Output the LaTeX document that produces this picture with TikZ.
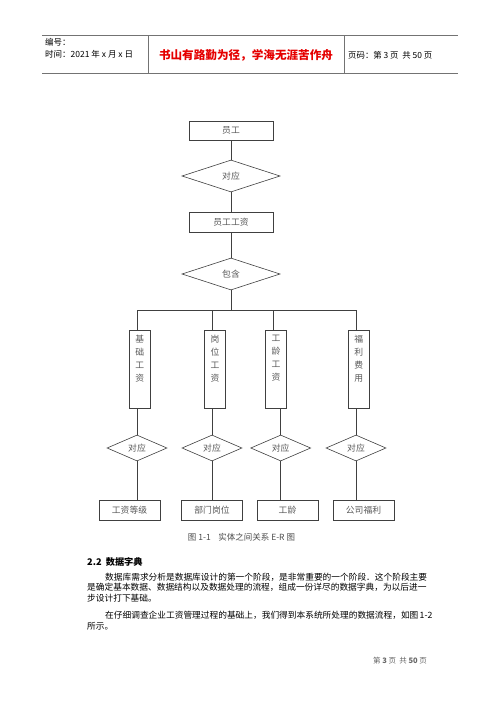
\documentclass[tikz,border=0pt]{standalone}
\usepackage{fontspec}
\setmainfont{Noto Sans CJK SC}
\usetikzlibrary{shapes.geometric,calc}
\XeTeXlinebreaklocale "zh"
\XeTeXlinebreakskip=0pt plus 1pt

\begin{document}
\begin{tikzpicture}[x=1pt,y=-1pt,
    box/.style={draw=black!75,line width=0.6pt,inner sep=0pt,text=black!65,font=\fontsize{8.8}{10}\selectfont},
    entity/.style={box,minimum width=84pt,minimum height=20pt},
    relation/.style={box,diamond,aspect=2},
    attrib/.style={box,minimum width=20.7pt,minimum height=78.7pt},
    vtext/.style={anchor=north,yshift=-5pt,align=center,inner sep=0pt,text=black!65,font=\fontsize{8.8}{13}\selectfont},
    body/.style={anchor=west,inner sep=0pt,font=\fontsize{8.7}{10}\selectfont}]
    \fill[white] (0,0) rectangle (500,707);
    \useasboundingbox (0,0) rectangle (500,707);

    % page header
    \draw[black!55,line width=0.8pt] (42,35) -- (458,35);
    \draw[black!55,line width=0.8pt] (42,73) -- (458,73);
    \draw[black!55,line width=0.8pt] (148,35) -- (148,73);
    \draw[black!55,line width=0.8pt] (344,35) -- (344,73);
    \node[anchor=west,inner sep=0pt,font=\fontsize{8.5}{9}\selectfont] (hnum) at (45,42.5) {编号：};
    \node[anchor=west,inner sep=0pt,font=\fontsize{8.5}{9}\selectfont] (hdate) at (45,54.5) {时间：2021 年 x 月 x 日};
    \node[inner sep=0pt,text=red!90!black,font=\fontsize{11.6}{13}\selectfont\bfseries] (motto) at (246,55) {书山有路勤为径，学海无涯苦作舟};
    \node[anchor=west,inner sep=0pt,font=\fontsize{8.4}{9}\selectfont] (hpage) at (348,55) {页码：第 3 页\ \ 共 50 页};

    % E-R diagram
    \node[entity,minimum height=19pt] (emp) at (231,130.5) {员工};
    \node[relation,minimum width=98pt,minimum height=32pt] (corr) at (231,176) {对应};
    \node[entity] (wage) at (231,222) {员工工资};
    \node[relation,minimum width=98pt,minimum height=32pt] (incl) at (231,274) {包含};
    \draw[black!75,line width=0.6pt] (emp) -- (corr);
    \draw[black!75,line width=0.6pt] (corr) -- (wage);
    \draw[black!75,line width=0.6pt] (wage) -- (incl);

    \coordinate (busL) at (137,310);
    \coordinate (busR) at (357,310);
    \draw[black!75,line width=0.6pt] (busL) -- (busR);
    \draw[black!75,line width=0.6pt] (incl.south) -- (incl.south |- busL);

    \foreach \i/\xa/\xt/\xd/\xb/\att/\ent in {
        1/139.7/137/137/129.5/{基\\础\\工\\资}/工资等级,
        2/215/212/212/212/{岗\\位\\工\\资}/部门岗位,
        3/276/273/280.7/287.5/{工\\龄\\工\\资}/工龄,
        4/358.7/356/356/363.5/{福\\利\\费\\用}/公司福利} {
      \coordinate (top\i) at (\xt,310);
      \node[attrib,label={[vtext]north:{\att}}] (att\i) at (\xa,369.3) {};
      \node[relation,minimum width=60pt,minimum height=26pt] (rel\i) at (\xd,448) {对应};
      \node[box,minimum width=61pt,minimum height=20pt] (ent\i) at (\xb,510) {\ent};
      \draw[black!75,line width=0.6pt] (top\i) -- (top\i |- att\i.north);
      \draw[black!75,line width=0.6pt] (rel\i.north |- att\i.south) -- (rel\i.north);
      \draw[black!75,line width=0.6pt] (rel\i.south) -- (rel\i.south |- ent\i.north);
    }

    % caption and text
    \node[inner sep=0pt,text=black!70,font=\fontsize{8.5}{10}\selectfont] (cap) at (241.5,537) {图 1-1\ \ \ \ 实体之间关系 E-R 图};
    \node[anchor=west,inner sep=0pt,font=\fontsize{9.2}{11}\selectfont\bfseries] (sec) at (87,562) {2.2\ \ 数据字典};
    \node[body] (p1) at (105,577) {\hbox to 325pt{数据库需求分析是数据库设计的第一个阶段，是非常重要的一个阶段．这个阶段主要}};
    \node[body] (p2) at (87,587.5) {\hbox to 343pt{是确定基本数据、数据结构以及数据处理的流程，组成一份详尽的数据字典，为以后进一}};
    \node[body] (p3) at (87,598) {步设计打下基础。};
    \node[body] (p4) at (105,615) {\hbox to 325pt{在仔细调查企业工资管理过程的基础上，我们得到本系统所处理的数据流程，如图 1-2}};
    \node[body] (p5) at (87,626) {所示。};

    % page footer
    \node[inner sep=0pt,text=black!60,font=\fontsize{7.5}{9}\selectfont] (foot) at (400,661) {第\ \textbf{3}\ 页\ \ 共\ \textbf{50}\ 页};
\end{tikzpicture}
\end{document}
